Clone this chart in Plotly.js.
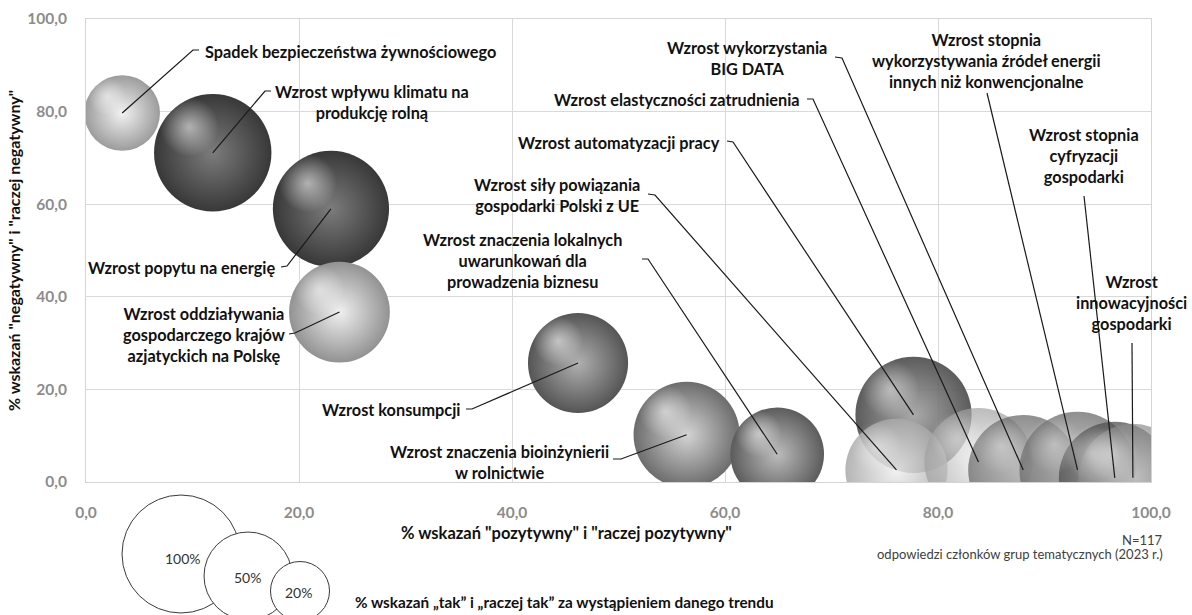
<!DOCTYPE html>
<html>
<head>
<meta charset="utf-8">
<script src="https://cdn.plot.ly/plotly-3.0.1.min.js"></script>
<style>html,body{margin:0;padding:0;background:#fff;}#chart{width:1192px;height:615px;}</style>
</head>
<body>
<div id="chart"></div>
<script>
// ---------------- DATA ----------------
const trends = [
  'Spadek bezpieczeństwa żywnościowego',
  'Wzrost wpływu klimatu na<br>produkcję rolną',
  'Wzrost popytu na energię',
  'Wzrost oddziaływania<br>gospodarczego krajów<br>azjatyckich na Polskę',
  'Wzrost konsumpcji',
  'Wzrost znaczenia bioinżynierii<br>w rolnictwie',
  'Wzrost znaczenia lokalnych<br>uwarunkowań dla<br>prowadzenia biznesu',
  'Wzrost automatyzacji pracy',
  'Wzrost siły powiązania<br>gospodarki Polski z UE',
  'Wzrost elastyczności zatrudnienia',
  'Wzrost wykorzystania<br>BIG DATA',
  'Wzrost stopnia<br>wykorzystywania źródeł energii<br>innych niż konwencjonalne',
  'Wzrost stopnia<br>cyfryzacji<br>gospodarki',
  'Wzrost<br>innowacyjności<br>gospodarki'
];
const positivePct = [3.4, 11.9, 23.0, 23.8, 46.2, 56.4, 64.9, 77.7, 76.1, 83.8, 88.0, 93.1, 96.6, 98.3];
const negativePct = [79.7, 71.1, 59.0, 36.7, 25.7, 10.2, 6.0, 14.5, 2.6, 4.3, 2.6, 2.6, 0.9, 0.9];
const yesPct      = [41, 99, 97, 73, 72, 81, 63, 97, 75, 84, 87, 97, 90, 84];
const xTicks = [0, 20, 40, 60, 80, 100];
const yTicks = [0, 20, 40, 60, 80, 100];
const legendPct = [100, 50, 20];

// ---------------- STYLE / LAYOUT CONSTANTS ----------------
const L = 86, T = 19, W = 1065, H = 463;           // plot area in px
const px2x = px => (px - L) / W * 100;
const py2y = py => (T + H - py) / H * 100;
const MAXD = 118;                                   // diameter (px) of a 100% bubble
const sizeref = 2 * 100 / (MAXD * MAXD);
const diam = v => MAXD * Math.sqrt(v / 100);

const edgeCol = ['#9c9c9c','#383838','#383838','#929292','#555555','#6c6c6c','#5c5c5c',
                 '#4a4a4a','#a8a8a8','#a0a0a0','#6a6a6a','#6a6a6a','#4e4e4e','#8a8a8a'];
const centerCol = ['#f2f2f2','#7c7c7c','#7c7c7c','#f0f0f0','#b0b0b0','#d4d4d4','#bcbcbc',
                   '#a0a0a0','#f0f0f0','#eeeeee','#b8b8b8','#bcbcbc','#9a9a9a','#cfcfcf'];
const opac = [1,1,1,1,1,1,1,0.9,0.85,0.7,0.75,0.75,0.75,0.7];

// label placement (px) and anchor
const labelPos = [
  [203,51,'left'],[372,102,'center'],[277,267,'right'],[204,334,'center'],
  [462,409,'right'],[499,462,'center'],[522,260,'center'],[722,142,'right'],
  [557,195,'center'],[802,99,'right'],[747,58,'center'],[986,60,'center'],
  [1084,155,'center'],[1131,302,'center']
];
// leader line starting points (px)
const leaderPts = [
  [[199,50],[193,50]], [[271,91],[265,91]], [[281,267],[287,266]], [[289,334],[295,333]],
  [[466,409],[472,409]], [[613,459],[621,459]], [[642,259],[648,259]], [[727,141],[733,142]],
  [[648,194],[655,195]], [[807,99],[813,99]], [[835,57],[842,58]], [[987,93]],
  [[1084,196]], [[1132,343]]
];

const FONT = 'Lato, "Open Sans", sans-serif';

// main bubbles
const bubbles = {
  type: 'scatter', mode: 'markers',
  x: positivePct, y: negativePct, text: trends,
  hoverinfo: 'text',
  cliponaxis: true,
  marker: {
    size: yesPct, sizemode: 'area', sizeref: sizeref,
    color: edgeCol, opacity: opac,
    gradient: {type: 'radial', color: centerCol},
    line: {width: 0}
  },
  showlegend: false
};
// specular highlight layer
const hx = positivePct.map((x, i) => x - 0.2 * diam(yesPct[i]) / (W / 100));
const hy = negativePct.map((y, i) => y + 0.22 * diam(yesPct[i]) / (H / 100));
const highlight = {
  type: 'scatter', mode: 'markers', x: hx, y: hy, hoverinfo: 'skip', cliponaxis: true,
  marker: {
    size: yesPct.map(v => 0.5 * diam(v)), sizemode: 'diameter',
    color: 'rgba(255,255,255,0)',
    gradient: {type: 'radial', color: 'rgba(255,255,255,0.55)'},
    opacity: opac, line: {width: 0}
  },
  showlegend: false
};

const annotations = [];
const shapes = [];
trends.forEach((t, i) => {
  const [lx, ly, xa] = labelPos[i];
  annotations.push({
    text: t, xref: 'x', yref: 'y', x: px2x(lx), y: py2y(ly),
    xanchor: xa, yanchor: 'middle', align: 'center', showarrow: false,
    font: {family: FONT, size: 16.3, color: '#111', weight: 'bold'}
  });
  let path = 'M ' + leaderPts[i].map(p => px2x(p[0]) + ',' + py2y(p[1])).join(' L ');
  path += ' L ' + positivePct[i] + ',' + negativePct[i];
  shapes.push({type: 'path', xref: 'x', yref: 'y', path: path, layer: 'above',
               line: {color: '#1a1a1a', width: 1.2}});
});

// x-axis title (offset left as in reference)
annotations.push({
  text: '% wskazań "pozytywny" i "raczej pozytywny"', xref: 'paper', yref: 'paper',
  x: (566 - L) / W, y: (T + H - 533) / H, xanchor: 'center', yanchor: 'middle', showarrow: false,
  font: {family: FONT, size: 16.5, color: '#111', weight: 'bold'}
});
annotations.push({
  text: 'N=117', xref: 'paper', yref: 'paper', x: (1165 - L) / W, y: (T + H - 540) / H,
  xanchor: 'right', yanchor: 'middle', showarrow: false,
  font: {family: FONT, size: 13, color: '#404040'}
});
annotations.push({
  text: 'odpowiedzi członków grup tematycznych (2023 r.)', xref: 'paper', yref: 'paper',
  x: (1165 - L) / W, y: (T + H - 554) / H, xanchor: 'right', yanchor: 'middle', showarrow: false,
  font: {family: FONT, size: 13, color: '#404040'}
});
annotations.push({
  text: '% wskazań „tak” i „raczej tak” za wystąpieniem danego trendu', xref: 'paper', yref: 'paper',
  x: (353 - L) / W, y: (T + H - 602) / H, xanchor: 'left', yanchor: 'middle', showarrow: false,
  font: {family: FONT, size: 15.3, color: '#111', weight: 'bold'}
});

// size legend circles
const legCenters = [[181, 554], [248, 576], [300, 591]];
const legText = [[183, 558], [247, 577], [298, 592]];
legendPct.forEach((v, i) => {
  const r = [59, 44, 29.5][i];
  shapes.push({
    type: 'circle', xref: 'paper', yref: 'paper', xsizemode: 'pixel', ysizemode: 'pixel',
    xanchor: (legCenters[i][0] - L) / W, yanchor: (T + H - legCenters[i][1]) / H,
    x0: -r, x1: r, y0: -r, y1: r, fillcolor: '#ffffff', layer: 'above',
    line: {color: '#3a3a3a', width: 1}
  });
  annotations.push({
    text: v + '%', xref: 'paper', yref: 'paper',
    x: (legText[i][0] - L) / W, y: (T + H - legText[i][1]) / H,
    xanchor: 'center', yanchor: 'middle', showarrow: false,
    font: {family: FONT, size: 14, color: '#333'}
  });
});

const layout = {
  width: 1192, height: 615,
  margin: {l: L, r: 1192 - L - W, t: T, b: 615 - T - H, pad: 0},
  paper_bgcolor: '#fff', plot_bgcolor: '#fff',
  separators: ', ',
  xaxis: {
    range: [0, 100], tickvals: xTicks, tickformat: '.1f',
    showgrid: true, gridcolor: '#d9d9d9', gridwidth: 1, zeroline: false,
    showline: true, mirror: true, linecolor: '#d4d4d4', linewidth: 1,
    ticks: '', ticklabelstandoff: 16,
    tickfont: {family: FONT, size: 15.5, color: '#8c8c8c', weight: 'bold'},
    fixedrange: true
  },
  yaxis: {
    range: [0, 100], tickvals: yTicks, tickformat: '.1f',
    showgrid: true, gridcolor: '#d9d9d9', gridwidth: 1, zeroline: false,
    showline: true, mirror: true, linecolor: '#d4d4d4', linewidth: 1,
    ticks: '', ticklabelstandoff: 15,
    tickfont: {family: FONT, size: 15.5, color: '#8c8c8c', weight: 'bold'},
    title: {text: '% wskazań "negatywny" i "raczej negatywny"', standoff: 2,
            font: {family: FONT, size: 16, color: '#111', weight: 'bold'}},
    fixedrange: true
  },
  annotations: annotations,
  shapes: shapes,
  hovermode: 'closest'
};

Plotly.newPlot('chart', [bubbles, highlight], layout, {displayModeBar: false, staticPlot: true});
</script>
</body>
</html>
